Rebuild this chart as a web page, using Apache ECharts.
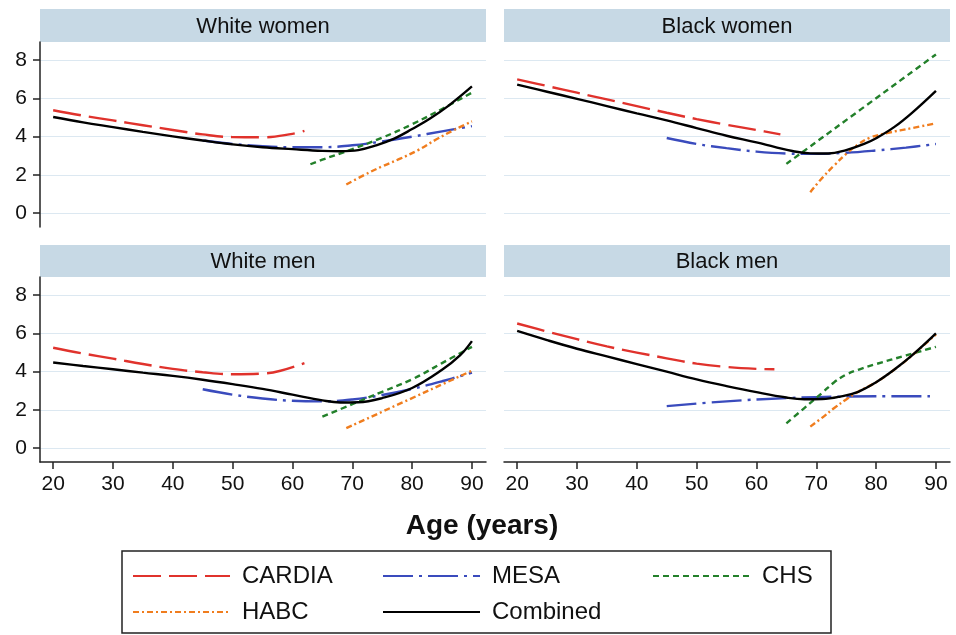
<!DOCTYPE html>
<html>
<head>
<meta charset="utf-8">
<script src="https://cdn.jsdelivr.net/npm/echarts@6/dist/echarts.min.js"></script>
<style>html,body{margin:0;padding:0;background:#fff}#c{width:956px;height:635px}</style>
</head>
<body>
<div id="c"></div>
<script>
// ---- data: [age, value] ----
const panels = ['White women', 'Black women', 'White men', 'Black men'];
const studies = ['CARDIA', 'MESA', 'CHS', 'HABC', 'Combined'];
const xTicks = [20, 30, 40, 50, 60, 70, 80, 90];
const yTicks = [0, 2, 4, 6, 8];

const WW_CARDIA = [[20,5.38],[25,5.1],[30,4.85],[35,4.6],[40,4.35],[45,4.12],[50,3.98],[55,3.97],[60,4.15],[62,4.3]];
const WW_MESA = [[45,3.8],[50,3.62],[55,3.5],[60,3.45],[65,3.45],[70,3.55],[75,3.75],[80,4.0],[85,4.28],[90,4.55]];
const WW_CHS = [[63,2.56],[65,2.8],[70,3.35],[75,3.95],[80,4.65],[85,5.45],[90,6.3]];
const WW_HABC = [[69,1.5],[72,2.0],[75,2.45],[78,2.85],[81,3.3],[84,3.85],[87,4.35],[90,4.8]];
const WW_COMB = [[20,5.03],[25,4.75],[30,4.5],[35,4.25],[40,4.02],[45,3.8],[50,3.6],[55,3.45],[60,3.35],[65,3.26],[68,3.24],[71,3.3],[74,3.55],[77,3.9],[80,4.4],[83,4.95],[86,5.6],[90,6.63]];

const BW_CARDIA = [[20,7.0],[25,6.65],[30,6.3],[35,5.95],[40,5.6],[45,5.25],[50,4.92],[55,4.62],[60,4.35],[64,4.12]];
const BW_MESA = [[45,3.93],[50,3.62],[55,3.4],[60,3.22],[65,3.12],[70,3.1],[75,3.16],[80,3.28],[85,3.43],[90,3.62]];
const BW_CHS = [[65,2.58],[90,8.3]];
const BW_HABC = [[69,1.1],[71,1.85],[73,2.5],[75,3.1],[77,3.6],[79,3.95],[82,4.2],[86,4.45],[90,4.7]];
const BW_COMB = [[20,6.72],[25,6.35],[30,5.98],[35,5.6],[40,5.22],[45,4.85],[50,4.45],[55,4.05],[60,3.7],[63,3.47],[66,3.25],[69,3.13],[72,3.12],[75,3.3],[78,3.62],[80,3.92],[83,4.5],[86,5.25],[90,6.4]];

const WM_CARDIA = [[20,5.25],[25,4.95],[30,4.68],[35,4.4],[40,4.15],[45,3.97],[50,3.87],[55,3.9],[58,4.05],[62,4.45]];
const WM_MESA = [[45,3.08],[50,2.8],[55,2.6],[60,2.48],[65,2.45],[70,2.55],[75,2.78],[80,3.1],[85,3.5],[90,3.95]];
const WM_CHS = [[65,1.65],[70,2.3],[75,2.95],[80,3.6],[85,4.45],[90,5.3]];
const WM_HABC = [[69,1.05],[90,4.05]];
const WM_COMB = [[20,4.48],[25,4.3],[30,4.13],[35,3.95],[40,3.78],[45,3.58],[50,3.35],[55,3.1],[60,2.8],[65,2.5],[68,2.39],[71,2.4],[75,2.62],[80,3.15],[85,4.1],[88,4.85],[90,5.6]];

const BM_CARDIA = [[20,6.52],[25,6.1],[30,5.7],[35,5.32],[40,5.0],[45,4.7],[50,4.42],[55,4.25],[60,4.15],[63,4.13]];
const BM_MESA = [[45,2.2],[55,2.45],[65,2.62],[75,2.7],[85,2.72],[89,2.72]];
const BM_CHS = [[65,1.3],[68,2.1],[71,2.9],[73,3.45],[75,3.85],[77,4.1],[80,4.4],[85,4.85],[90,5.3]];
const BM_HABC = [[69,1.13],[71,1.6],[73,2.1],[75,2.55],[77,2.95],[80,3.45],[83,4.1],[86,4.85],[90,5.95]];
const BM_COMB = [[20,6.13],[25,5.65],[30,5.2],[35,4.8],[40,4.4],[45,4.0],[50,3.6],[55,3.25],[60,2.93],[65,2.65],[68,2.56],[71,2.57],[74,2.7],[77,2.95],[80,3.45],[83,4.1],[86,4.85],[90,6.0]];

const panelData = [
  [WW_CARDIA, WW_MESA, WW_CHS, WW_HABC, WW_COMB],
  [BW_CARDIA, BW_MESA, BW_CHS, BW_HABC, BW_COMB],
  [WM_CARDIA, WM_MESA, WM_CHS, WM_HABC, WM_COMB],
  [BM_CARDIA, BM_MESA, BM_CHS, BM_HABC, BM_COMB]
];

// ---- styles ----
const FONT = 'Liberation Sans, Arial, Helvetica, sans-serif';
const styles = {
  CARDIA:   {color: '#e0322c', type: [28, 8]},
  MESA:     {color: '#3a4bbd', type: [30, 6, 3, 6]},
  CHS:      {color: '#23802a', type: [6, 4]},
  HABC:     {color: '#f07d1e', type: [6, 3, 2, 3]},
  Combined: {color: '#000000', type: 'solid'}
};
const gridPos = [
  {left: 40, top: 42, width: 446, height: 185},
  {left: 504, top: 42, width: 446, height: 185},
  {left: 40, top: 277, width: 446, height: 185},
  {left: 504, top: 277, width: 446, height: 185}
];
const headerPos = [
  {x: 40, y: 9, w: 446, h: 33},
  {x: 504, y: 9, w: 446, h: 33},
  {x: 40, y: 245, w: 446, h: 32},
  {x: 504, y: 245, w: 446, h: 32}
];

const grids = [], xAxes = [], yAxes = [], series = [], graphics = [];
panels.forEach((p, i) => {
  const isLeft = (i % 2 === 0), isBottom = (i >= 2);
  grids.push(Object.assign({containLabel: false}, gridPos[i]));
  xAxes.push({
    type: 'value', gridIndex: i, min: 17.8, max: 92.35,
    axisLine: {show: isBottom, onZero: false, lineStyle: {color: '#222', width: 1.5}},
    axisTick: {show: isBottom, length: 7, customValues: xTicks, lineStyle: {color: '#222', width: 1.5}},
    axisLabel: {show: isBottom, customValues: xTicks, margin: 12, fontSize: 21, color: '#111', fontFamily: FONT},
    splitLine: {show: false}
  });
  yAxes.push({
    type: 'value', gridIndex: i, min: -0.72, max: 8.95,
    axisLine: {show: isLeft, onZero: false, lineStyle: {color: '#222', width: 1.5}},
    axisTick: {show: isLeft, length: 7, customValues: yTicks, lineStyle: {color: '#222', width: 1.5}},
    axisLabel: {show: isLeft, customValues: yTicks, margin: 13, fontSize: 21, color: '#111', fontFamily: FONT},
    splitLine: {show: true, lineStyle: {color: '#dce8f1', width: 1.2}}
  });
  studies.forEach((s, k) => {
    series.push({
      name: s, type: 'line', xAxisIndex: i, yAxisIndex: i,
      data: panelData[i][k], showSymbol: false, symbol: 'none',
      smooth: 0.4,
      lineStyle: {color: styles[s].color, type: styles[s].type, width: 2.4},
      itemStyle: {color: styles[s].color},
      z: s === 'Combined' ? 5 : 3, animation: false
    });
  });
  const h = headerPos[i];
  graphics.push({type: 'rect', shape: {x: h.x, y: h.y, width: h.w, height: h.h}, style: {fill: '#c7d9e5'}, silent: true});
  graphics.push({type: 'text', x: h.x + h.w / 2, y: h.y + h.h / 2 + 1,
    style: {text: p, fill: '#111', font: '22px ' + FONT, textAlign: 'center', textVerticalAlign: 'middle'}, silent: true});
});

// legend box
graphics.push({type: 'rect', shape: {x: 122, y: 551, width: 709, height: 82},
  style: {fill: 'none', stroke: '#222', lineWidth: 1.5}, silent: true});

const legendPos = [
  {name: 'CARDIA', left: 132, top: 564},
  {name: 'MESA', left: 382, top: 564},
  {name: 'CHS', left: 652, top: 564},
  {name: 'HABC', left: 132, top: 600},
  {name: 'Combined', left: 382, top: 600}
];
const legends = legendPos.map(l => ({
  data: [l.name], left: l.left, top: l.top, padding: 0,
  itemWidth: 97, itemHeight: 22, selectedMode: false,
  itemStyle: {opacity: 0, borderWidth: 0},
  textStyle: {fontSize: 24, color: '#111', fontFamily: FONT, padding: [0, 0, 0, 7]}
}));

const chart = echarts.init(document.getElementById('c'), null, {renderer: 'canvas'});
chart.setOption({
  animation: false,
  backgroundColor: '#ffffff',
  title: {text: 'Age (years)', left: 477, top: 507, textAlign: 'center',
    textStyle: {fontSize: 28, fontWeight: 'bold', color: '#111', fontFamily: FONT}},
  grid: grids, xAxis: xAxes, yAxis: yAxes, series: series,
  legend: legends,
  graphic: graphics
});
</script>
</body>
</html>
